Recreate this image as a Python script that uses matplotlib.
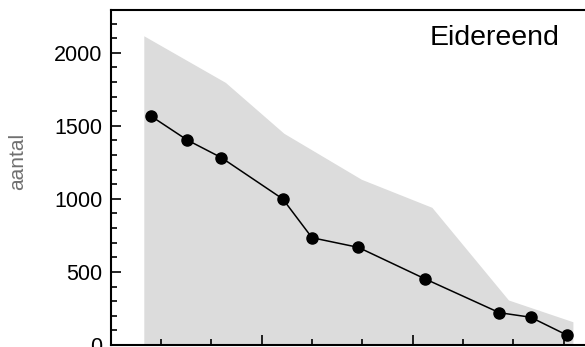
import matplotlib
matplotlib.use("Agg")
import matplotlib.pyplot as plt
from matplotlib.ticker import MultipleLocator, FixedLocator, NullFormatter

plt.rcParams['font.family'] = ['Liberation Sans', 'DejaVu Sans']

# Counts per season
years = [1974.0, 1977.6, 1981.0, 1987.1, 1990.0, 1994.6, 2001.2, 2008.6, 2011.7, 2015.3]
counts = [1567, 1403, 1282, 999, 734, 668, 453, 221, 190, 68]

# Upper envelope of the range band
band_years = [1973.3, 1981.4, 1987.2, 1994.9, 2001.9, 2009.5, 2015.9]
band_upper = [2116, 1797, 1449, 1134, 942, 308, 159]

species = "Eidereend"
ylabel = "aantal"

fig = plt.figure(figsize=(5.85, 3.47), dpi=100)
ax = fig.add_axes([0.189, 0.0058, 0.811, 0.9652])

ax.fill_between(band_years, band_upper, 0, color="#dcdcdc", linewidth=0, zorder=1)
ax.plot(years, counts, color="black", linewidth=1.1, marker="o",
        markersize=8, markerfacecolor="black", markeredgecolor="black", zorder=3)

ax.set_xlim(1970, 2017.1)
ax.set_ylim(0, 2292)

ax.yaxis.set_major_locator(MultipleLocator(500))
ax.yaxis.set_minor_locator(MultipleLocator(100))
ax.xaxis.set_major_locator(FixedLocator([1985, 2000, 2015]))
ax.xaxis.set_minor_locator(FixedLocator([1975, 1980, 1990, 1995, 2005, 2010]))
ax.xaxis.set_major_formatter(NullFormatter())

ax.tick_params(which="both", direction="in", top=False, right=False, width=1.2, color="black")
ax.tick_params(which="major", length=7)
ax.tick_params(which="minor", length=4)
ax.tick_params(axis="y", labelsize=15.5, pad=6)

for side in ("left", "bottom", "top"):
    ax.spines[side].set_linewidth(1.5)
ax.spines["right"].set_visible(False)

fig.text(18 / 585, 1 - 161.5 / 347, ylabel, rotation=90, ha="center", va="center",
         fontsize=15, color="#707070")
ax.text(0.947, 0.955, species, transform=ax.transAxes, ha="right", va="top",
        fontsize=20.5, color="black")

fig.savefig("out.png", dpi=100)
